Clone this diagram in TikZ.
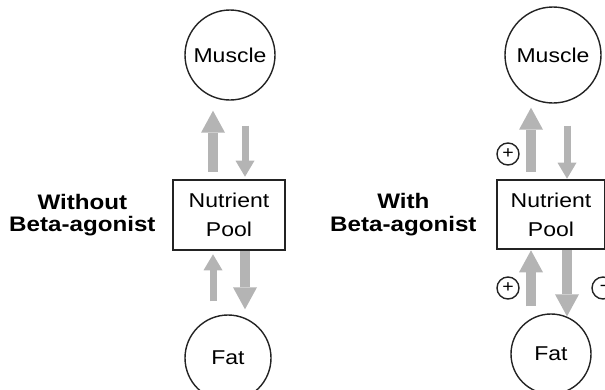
\documentclass[tikz,border=0pt]{standalone}
\usepackage{fontspec}
\setmainfont{Liberation Sans}[FakeStretch=1.15]
\usetikzlibrary{arrows.meta, positioning}
\definecolor{LineDark}{RGB}{35,35,35}
\definecolor{FlowGrey}{RGB}{180,180,180}
\tikzset{
    pool/.style={draw=LineDark, line width=2.6pt, minimum width=112pt, minimum height=70pt, align=center, font=\fontsize{20}{29}\selectfont, inner sep=0pt},
    tissue/.style={circle, draw=LineDark, line width=1.4pt, font=\fontsize{20}{24}\selectfont, inner sep=0pt},
    sign/.style={circle, draw=LineDark, line width=1.4pt, minimum size=22pt, inner sep=0pt, font=\fontsize{17}{17}\selectfont},
    caption/.style={align=center, font=\bfseries\fontsize{21}{22.5}\selectfont, inner sep=0pt},
    bigflow/.style={draw=FlowGrey, line width=10pt, -{Triangle[length=22pt, width=24pt, line width=0pt]}},
    smallflow/.style={draw=FlowGrey, line width=7pt, -{Triangle[length=16pt, width=19pt, line width=0pt]}}
}
\begin{document}
\begin{tikzpicture}[x=1pt, y=-1pt]
    \useasboundingbox (0,0) rectangle (605,389);
    \clip (0,0) rectangle (605,389);

    % Without beta-agonist
    \node[pool] (poolL) at (229,215) {Nutrient\\Pool};
    \node[tissue, minimum size=90pt] (muscleL) at (230,55) {Muscle};
    \node[tissue, minimum size=86pt] (fatL) at (228,358) {Fat};
    \node[caption, left=16pt of poolL] (capL) {Without\\Beta-agonist};

    \draw[bigflow, shorten <=7pt, shorten >=10pt] ([xshift=-16pt]poolL.north) -- ([xshift=-16pt]poolL.north |- muscleL.south);
    \draw[smallflow, shorten <=25pt, shorten >=2pt] ([xshift=16pt]poolL.north |- muscleL.south) -- ([xshift=16pt]poolL.north);
    \draw[smallflow, shorten <=13pt, shorten >=3pt] ([xshift=-16pt]poolL.south |- fatL.north) -- ([xshift=-16pt]poolL.south);
    \draw[bigflow, shorten >=5pt] ([xshift=16pt]poolL.south) -- ([xshift=16pt]poolL.south |- fatL.north);

    % With beta-agonist
    \node[pool, minimum width=108pt, minimum height=69pt] (poolR) at (551,214.5) {Nutrient\\Pool};
    \node[tissue, minimum size=96pt] (muscleR) at (553,55) {Muscle};
    \node[tissue, minimum size=80pt] (fatR) at (551,354) {Fat};
    \node[caption, left=19pt of poolR] (capR) {With\\Beta-agonist};

    \draw[bigflow, shorten <=7pt, shorten >=4pt] ([xshift=-20pt]poolR.north) -- ([xshift=-20pt]poolR.north |- muscleR.south);
    \draw[smallflow, shorten <=22pt] ([xshift=16pt]poolR.north |- muscleR.south) -- ([xshift=16pt]poolR.north);
    \draw[bigflow, shorten <=7pt] ([xshift=-20pt]poolR.south |- fatR.north) -- ([xshift=-20pt]poolR.south);
    \draw[bigflow, shorten >=-3pt] ([xshift=16pt]poolR.south) -- ([xshift=16pt]poolR.south |- fatR.north);

    % Signs
    \node[sign] (plusTop) at (508,154) {+};
    \node[sign] (plusBot) at (508,288) {+};
    \node[sign] (minusBot) at (603,288) {-};
\end{tikzpicture}
\end{document}
